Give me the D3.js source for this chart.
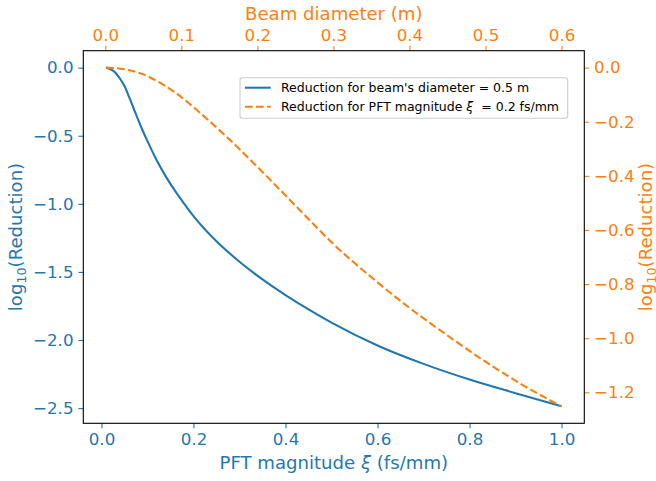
<!DOCTYPE html>
<html>
<head>
<meta charset="utf-8">
<script src="https://cdn.jsdelivr.net/npm/d3@7"></script>
<style>
  body { margin: 0; background: #fff; }
  text { font-family: "DejaVu Sans", sans-serif; }
</style>
</head>
<body>
<div id="chart"></div>
<script>
// ---- data ----
// blue: log10(reduction) vs PFT magnitude (fs/mm), beam diameter 0.5 m
const pftValues = [0.01, 0.02, 0.03, 0.04, 0.05, 0.06, 0.07, 0.08, 0.09, 0.10, 0.12, 0.14, 0.16, 0.18, 0.20,
                   0.25, 0.30, 0.35, 0.40, 0.45, 0.50, 0.60, 0.70, 0.80, 0.90, 1.00];
const reductionPft = [0, -0.012, -0.035, -0.08, -0.135, -0.215, -0.30, -0.385, -0.465, -0.54, -0.68, -0.80, -0.905, -1.00, -1.09,
                      -1.275, -1.425, -1.555, -1.67, -1.775, -1.872, -2.04, -2.175, -2.29, -2.39, -2.487];

// orange: log10(reduction) vs beam diameter (m), PFT 0.2 fs/mm
const beamValues = [0.001, 0.025, 0.05, 0.075, 0.10, 0.125, 0.15, 0.175, 0.20, 0.225, 0.25, 0.275, 0.30,
                    0.35, 0.40, 0.45, 0.50, 0.55, 0.60];
const reductionBeam = [0, -0.006, -0.025, -0.061, -0.109, -0.168, -0.231, -0.297, -0.367, -0.438, -0.51, -0.582, -0.652,
                       -0.775, -0.888, -0.99, -1.087, -1.175, -1.252];

const bottomTicks = [0, 0.2, 0.4, 0.6, 0.8, 1.0];
const leftTicks = [0, -0.5, -1.0, -1.5, -2.0, -2.5];
const topTicks = [0, 0.1, 0.2, 0.3, 0.4, 0.5, 0.6];
const rightTicks = [0, -0.2, -0.4, -0.6, -0.8, -1.0, -1.2];

const legendLabels = ["Reduction for beam's diameter = 0.5 m", "Reduction for PFT magnitude "];

// ---- layout ----
const W = 656, H = 481;
const plot = { left: 83.3, right: 584.3, top: 50.7, bottom: 423.3 };
const blue = "#1f77b4", orange = "#ff7f0e";

const svg = d3.select("#chart").append("svg").attr("width", W).attr("height", H);

// matplotlib-like 5% margins
function padded(vals) {
  const [a, b] = d3.extent(vals);
  const p = (b - a) * 0.05;
  return [a - p, b + p];
}

const x = d3.scaleLinear().domain(padded(pftValues)).range([plot.left, plot.right]);
const xTop = d3.scaleLinear().domain(padded(beamValues)).range([plot.left, plot.right]);
const yLeft = d3.scaleLinear().domain(padded(reductionPft)).range([plot.bottom, plot.top]);
const yRight = d3.scaleLinear().domain(padded(reductionBeam)).range([plot.bottom, plot.top]);

const fmt = d3.format(".1f");
const tickFont = "16.7px";

function styleAxis(g, color) {
  g.select(".domain").remove();
  g.selectAll(".tick line").attr("stroke", color).attr("stroke-width", 1.1);
  g.selectAll(".tick text").attr("fill", color).style("font-size", tickFont).style("font-family", "DejaVu Sans");
}

svg.append("g").attr("transform", `translate(0,${plot.bottom})`)
  .call(d3.axisBottom(x).tickValues(bottomTicks).tickFormat(fmt).tickSize(4.9).tickPadding(4.9))
  .call(g => styleAxis(g, blue));

svg.append("g").attr("transform", `translate(${plot.left},0)`)
  .call(d3.axisLeft(yLeft).tickValues(leftTicks).tickFormat(fmt).tickSize(4.9).tickPadding(4.9))
  .call(g => styleAxis(g, blue));

svg.append("g").attr("transform", `translate(0,${plot.top})`)
  .call(d3.axisTop(xTop).tickValues(topTicks).tickFormat(fmt).tickSize(4.9).tickPadding(4.9))
  .call(g => styleAxis(g, orange));

svg.append("g").attr("transform", `translate(${plot.right},0)`)
  .call(d3.axisRight(yRight).tickValues(rightTicks).tickFormat(fmt).tickSize(4.9).tickPadding(4.9))
  .call(g => styleAxis(g, orange));

// frame
svg.append("rect")
  .attr("x", plot.left).attr("y", plot.top)
  .attr("width", plot.right - plot.left).attr("height", plot.bottom - plot.top)
  .attr("fill", "none").attr("stroke", "#000").attr("stroke-width", 1.1);

// curves
const lineBlue = d3.line().curve(d3.curveMonotoneX)
  .x((d, i) => x(pftValues[i])).y(d => yLeft(d));
const lineOrange = d3.line().curve(d3.curveMonotoneX)
  .x((d, i) => xTop(beamValues[i])).y(d => yRight(d));

svg.append("path").datum(reductionPft).attr("d", lineBlue)
  .attr("fill", "none").attr("stroke", blue).attr("stroke-width", 2.08);

svg.append("path").datum(reductionBeam).attr("d", lineOrange)
  .attr("fill", "none").attr("stroke", orange).attr("stroke-width", 2.08)
  .attr("stroke-dasharray", "7.7,3.3");

// axis labels
const labelFont = "18.1px";
const xl = svg.append("text").attr("x", (plot.left + plot.right) / 2).attr("y", 469)
  .attr("text-anchor", "middle").attr("fill", blue).style("font-size", labelFont);
xl.append("tspan").text("PFT magnitude ");
xl.append("tspan").attr("font-style", "italic").text("ξ");
xl.append("tspan").text(" (fs/mm)");

svg.append("text").attr("x", (plot.left + plot.right) / 2).attr("y", 20)
  .attr("text-anchor", "middle").attr("fill", orange).style("font-size", labelFont)
  .text("Beam diameter (m)");

function yLabel(xPos, color) {
  const t = svg.append("text")
    .attr("transform", `translate(${xPos},${(plot.top + plot.bottom) / 2}) rotate(-90)`)
    .attr("text-anchor", "middle").attr("fill", color).style("font-size", labelFont);
  t.append("tspan").text("log");
  t.append("tspan").attr("dy", 4).style("font-size", "12.7px").text("10");
  t.append("tspan").attr("dy", -4).text("(Reduction)");
}
yLabel(22, blue);
yLabel(652, orange);

// legend
const leg = svg.append("g");
leg.append("rect").attr("x", 240).attr("y", 77.7).attr("width", 327.7).attr("height", 40.6)
  .attr("rx", 2.5).attr("fill", "#fff").attr("fill-opacity", 0.8)
  .attr("stroke", "#ccc").attr("stroke-width", 1.1);

const legItems = [
  { color: blue, dash: null, y: 87.7 },
  { color: orange, dash: "7.7,3.3", y: 106.7 }
];
legItems.forEach((it, i) => {
  leg.append("line").attr("x1", 245).attr("x2", 270.7).attr("y1", it.y).attr("y2", it.y)
    .attr("stroke", it.color).attr("stroke-width", 2.08)
    .attr("stroke-dasharray", it.dash);
  const t = leg.append("text").attr("x", 281).attr("y", it.y + 4.4)
    .style("font-size", "12.5px").attr("fill", "#000");
  t.append("tspan").text(legendLabels[i]);
  if (i === 1) {
    t.append("tspan").attr("font-style", "italic").text("ξ");
    t.append("tspan").attr("xml:space", "preserve").text("\u00a0\u00a0= 0.2 fs/mm");
  }
});
</script>
</body>
</html>
